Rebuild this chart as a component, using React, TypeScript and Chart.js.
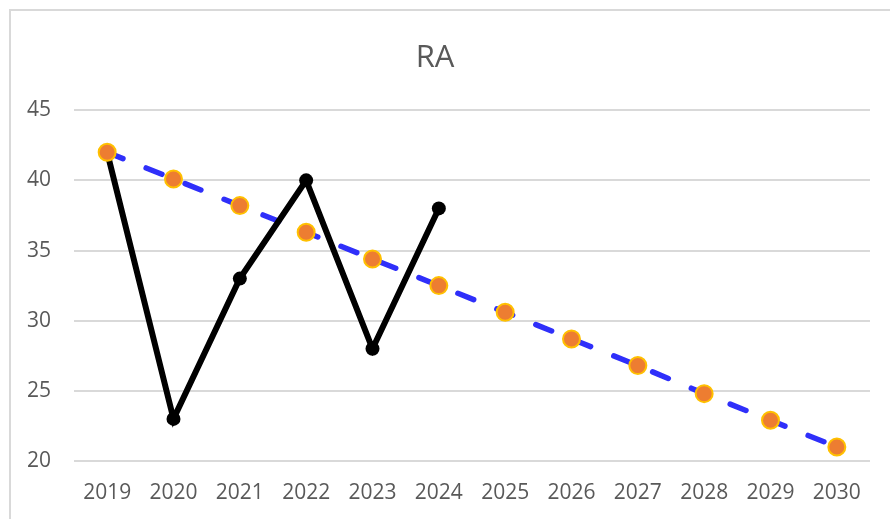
import React, { useEffect, useRef } from "react";
import { Chart, registerables } from "chart.js";

Chart.register(...registerables);

const years = ["2019", "2020", "2021", "2022", "2023", "2024", "2025", "2026", "2027", "2028", "2029", "2030"];
const actualValues = [42, 23, 33, 40, 28, 38, null, null, null, null, null, null];
const trendValues = [42, 40.1, 38.2, 36.3, 34.4, 32.5, 30.6, 28.7, 26.8, 24.8, 22.9, 21];
const chartTitle = "RA";
const yMin = 20;
const yMax = 45;
const yStep = 5;

const FONT = "'Open Sans', 'Liberation Sans', sans-serif";

export default function App() {
  const canvasRef = useRef<HTMLCanvasElement | null>(null);

  useEffect(() => {
    if (!canvasRef.current) return;
    const chart = new Chart(canvasRef.current, {
      type: "line",
      data: {
        labels: years,
        datasets: [
          {
            label: "Trend points",
            data: trendValues,
            showLine: false,
            pointRadius: 8.5,
            pointBackgroundColor: "#ED7D31",
            pointBorderColor: "#FFC000",
            pointBorderWidth: 2,
            borderColor: "transparent",
          },
          {
            label: "RA",
            data: actualValues,
            borderColor: "#000000",
            backgroundColor: "#000000",
            borderWidth: 6,
            pointRadius: 7,
            pointBackgroundColor: "#000000",
            pointBorderColor: "#000000",
            pointBorderWidth: 0,
            tension: 0,
            spanGaps: false,
          },
          {
            label: "Trend",
            data: trendValues,
            borderColor: "#2F2FFA",
            borderWidth: 5.5,
            borderDash: [17, 25],
            borderCapStyle: "round",
            pointRadius: 0,
            tension: 0,
          },
        ],
      },
      options: {
        animation: false,
        responsive: false,
        maintainAspectRatio: false,
        layout: { padding: { left: 0, right: 20, top: 0, bottom: 0 } },
        plugins: {
          legend: { display: false },
          tooltip: { enabled: false },
          title: {
            display: true,
            text: chartTitle,
            color: "#595959",
            font: { family: FONT, size: 31, weight: "normal" },
            padding: { top: 40, bottom: 33 },
          },
        },
        scales: {
          x: {
            type: "category",
            offset: true,
            grid: { display: false, drawTicks: false },
            border: { display: false },
            ticks: {
              color: "#595959",
              font: { family: FONT, size: 21 },
              padding: 19,
              maxRotation: 0,
              autoSkip: false,
            },
            afterFit: (s: any) => {
              s.height = 58;
            },
          },
          y: {
            min: yMin,
            max: yMax,
            grid: { color: "#d9d9d9", lineWidth: 2, drawTicks: false },
            border: { display: false },
            ticks: {
              stepSize: yStep,
              color: "#595959",
              font: { family: FONT, size: 21 },
              padding: 23,
            },
            afterFit: (s: any) => {
              s.width = 74;
            },
          },
        },
      },
    });
    return () => chart.destroy();
  }, []);

  return (
    <div
      style={{
        position: "fixed",
        left: 0,
        top: 0,
        width: 890,
        height: 519,
        overflow: "hidden",
        background: "#ffffff",
      }}
    >
      <div
        style={{
          position: "absolute",
          left: 9,
          top: 9,
          width: 1000,
          height: 1000,
          borderLeft: "2px solid #d9d9d9",
          borderTop: "2px solid #d9d9d9",
        }}
      />
      <canvas
        ref={canvasRef}
        width={890}
        height={519}
        style={{ position: "absolute", left: 0, top: 0, width: 890, height: 519 }}
      />
    </div>
  );
}
